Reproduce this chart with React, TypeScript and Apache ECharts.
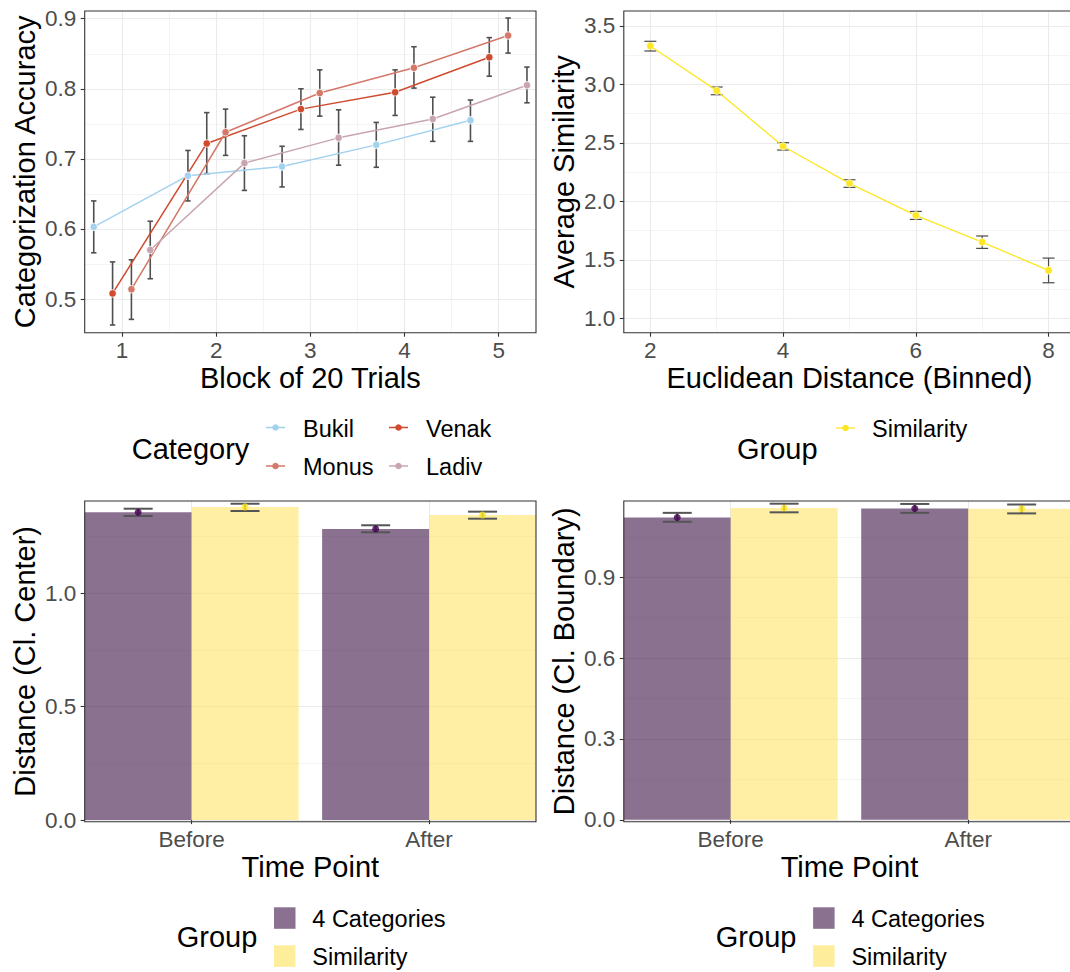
import React, { useEffect, useRef } from 'react';
import * as echarts from 'echarts';

// ---------- Data ----------
const blocks = [1, 2, 3, 4, 5];
const blockTicks = [1, 2, 3, 4, 5];
const blockMinorTicks = [1.5, 2.5, 3.5, 4.5];
const accuracyTicks = [0.5, 0.6, 0.7, 0.8, 0.9];
const accuracyMinorTicks = [0.55, 0.65, 0.75, 0.85];

const categoryNames = ['Bukil', 'Venak', 'Monus', 'Ladiv'];
const bukilMean = [0.603, 0.676, 0.689, 0.72, 0.755];
const bukilLow = [0.566, 0.64, 0.66, 0.688, 0.725];
const bukilHigh = [0.64, 0.712, 0.718, 0.752, 0.784];
const venakMean = [0.508, 0.722, 0.771, 0.795, 0.845];
const venakLow = [0.463, 0.679, 0.742, 0.762, 0.818];
const venakHigh = [0.553, 0.766, 0.8, 0.827, 0.873];
const monusMean = [0.514, 0.738, 0.794, 0.83, 0.876];
const monusLow = [0.471, 0.705, 0.761, 0.801, 0.851];
const monusHigh = [0.556, 0.771, 0.827, 0.86, 0.901];
const ladivMean = [0.57, 0.694, 0.73, 0.757, 0.805];
const ladivLow = [0.529, 0.655, 0.691, 0.725, 0.78];
const ladivHigh = [0.611, 0.733, 0.77, 0.788, 0.831];

const distanceBins = [2, 3, 4, 5, 6, 7, 8];
const distanceTicks = [2, 4, 6, 8];
const distanceMinorTicks = [3, 5, 7];
const similarityTicks = [1.0, 1.5, 2.0, 2.5, 3.0, 3.5];
const similarityMinorTicks = [1.25, 1.75, 2.25, 2.75, 3.25];
const similarityMean = [3.329, 2.947, 2.471, 2.154, 1.88, 1.652, 1.41];
const similarityLow = [3.286, 2.912, 2.439, 2.12, 1.846, 1.598, 1.304];
const similarityHigh = [3.369, 2.978, 2.502, 2.185, 1.914, 1.704, 1.515];

const timePoints = ['Before', 'After'];
const groupNames = ['4 Categories', 'Similarity'];

const centerTicks = [0.0, 0.5, 1.0];
const centerMinorTicks = [0.25, 0.75, 1.25];
const center4Mean = [1.357, 1.284];
const center4Low = [1.341, 1.269];
const center4High = [1.373, 1.3];
const centerSimMean = [1.381, 1.345];
const centerSimLow = [1.363, 1.329];
const centerSimHigh = [1.395, 1.36];

const boundaryTicks = [0.0, 0.3, 0.6, 0.9];
const boundaryMinorTicks = [0.15, 0.45, 0.75, 1.05];
const boundary4Mean = [1.122, 1.155];
const boundary4Low = [1.106, 1.139];
const boundary4High = [1.139, 1.172];
const boundarySimMean = [1.157, 1.154];
const boundarySimLow = [1.141, 1.137];
const boundarySimHigh = [1.173, 1.17];

// ---------- Styling / layout ----------
const FONT = "'Liberation Sans', Arial, Helvetica, sans-serif";
const catColors = ['#A3D2EE', '#CF4A2F', '#D4786A', '#C9A6AF'];
const catOffsets = [-0.3, -0.1, 0.1, 0.3];
const simLineColor = '#FDE725';
const groupPointColors = ['#440154', '#FDE725'];
const groupBarColors = ['rgba(62,18,70,0.6)', 'rgba(253,226,90,0.55)'];
const groupKeyColors = ['#8A7190', '#FEEE9C'];
const barDodge = 0.225;

const L1 = 84.7, L2 = 623.8, PW = 451.3;
// the right column is cut by the page edge: visible width and matching axis ends
const PW2 = 1070 - L2 - 0.2;
const visFrac = PW2 / PW;
const T1 = 11, PH1 = 321.7, T2 = 501, PH2 = 320.7;

const catMeans = [bukilMean, venakMean, monusMean, ladivMean];
const catLows = [bukilLow, venakLow, monusLow, ladivLow];
const catHighs = [bukilHigh, venakHigh, monusHigh, ladivHigh];

function errorBars(capHalf: number, color: string, width: number) {
  return (params: any, api: any) => {
    const x = api.value(0), lo = api.value(1), hi = api.value(2);
    const a = api.coord([x, lo]);
    const b = api.coord([x, hi]);
    const style = { stroke: color, lineWidth: width };
    return {
      type: 'group',
      children: [
        { type: 'line', shape: { x1: a[0], y1: a[1], x2: b[0], y2: b[1] }, style },
        { type: 'line', shape: { x1: a[0] - capHalf, y1: a[1], x2: a[0] + capHalf, y2: a[1] }, style },
        { type: 'line', shape: { x1: b[0] - capHalf, y1: b[1], x2: b[0] + capHalf, y2: b[1] }, style },
      ],
    };
  };
}

function mainAxis(kind: 'x' | 'y', gridIndex: number, min: number, max: number, ticks: number[], fmt: (v: number) => string) {
  return {
    type: 'value',
    gridIndex,
    min,
    max,
    position: kind === 'x' ? 'bottom' : 'left',
    axisLine: { show: false },
    axisTick: { show: true, length: 4, lineStyle: { color: '#333333', width: 1.1 }, customValues: ticks },
    axisLabel: {
      show: true,
      customValues: ticks,
      formatter: fmt,
      color: '#4D4D4D',
      fontSize: 22.5,
      fontFamily: FONT,
      margin: kind === 'x' ? 6 : 8.5,
    },
    splitLine: { show: true, lineStyle: { color: '#EBEBEB', width: 1.1 } },
  };
}

function minorAxis(kind: 'x' | 'y', gridIndex: number, min: number, max: number, ticks: number[]) {
  return {
    type: 'value',
    gridIndex,
    min,
    max,
    position: kind === 'x' ? 'top' : 'right',
    axisLine: { show: false },
    axisTick: { show: false, customValues: ticks },
    axisLabel: { show: false, customValues: ticks },
    splitLine: { show: true, lineStyle: { color: '#EBEBEB', width: 0.55 } },
  };
}

const fmt1 = (v: number) => v.toFixed(1);
const fmtInt = (v: number) => String(Math.round(v));
const fmtTime = (v: number) => timePoints[Math.round(v) - 1] ?? '';

function buildOption() {
  const trMax = 1.6 + (8.4 - 1.6) * visFrac;
  const brMax = 0.55 + (2.45 - 0.55) * visFrac;
  const xAxis = [
    mainAxis('x', 0, 0.604, 5.396, blockTicks, fmtInt),
    minorAxis('x', 0, 0.604, 5.396, blockMinorTicks),
    mainAxis('x', 1, 1.6, trMax, distanceTicks, fmtInt),
    minorAxis('x', 1, 1.6, trMax, distanceMinorTicks),
    mainAxis('x', 2, 0.55, 2.45, [1, 2], fmtTime),
    mainAxis('x', 3, 0.55, brMax, [1, 2], fmtTime),
  ];
  const yAxis = [
    mainAxis('y', 0, 0.452, 0.911, accuracyTicks, fmt1),
    minorAxis('y', 0, 0.452, 0.911, accuracyMinorTicks),
    mainAxis('y', 1, 0.877, 3.628, similarityTicks, fmt1),
    minorAxis('y', 1, 0.877, 3.628, similarityMinorTicks),
    mainAxis('y', 2, -0.007, 1.407, centerTicks, fmt1),
    minorAxis('y', 2, -0.007, 1.407, centerMinorTicks),
    mainAxis('y', 3, -0.007, 1.183, boundaryTicks, fmt1),
    minorAxis('y', 3, -0.007, 1.183, boundaryMinorTicks),
  ];

  const series: any[] = [];
  // Top-left: accuracy per category
  categoryNames.forEach((name, i) => {
    series.push({
      type: 'custom',
      name: name + ' SE',
      xAxisIndex: 0,
      yAxisIndex: 0,
      silent: true,
      z: 2,
      encode: { x: 0, y: [1, 2] },
      data: blocks.map((b, j) => [b + catOffsets[i], catLows[i][j], catHighs[i][j]]),
      renderItem: errorBars(2.7, '#4F4F4F', 1.6),
    });
  });
  categoryNames.forEach((name, i) => {
    series.push({
      type: 'line',
      name,
      xAxisIndex: 0,
      yAxisIndex: 0,
      z: 3,
      data: blocks.map((b, j) => [b + catOffsets[i], catMeans[i][j]]),
      symbol: 'circle',
      symbolSize: 7.5,
      lineStyle: { color: catColors[i], width: 1.5 },
      itemStyle: { color: catColors[i], borderColor: '#ffffff', borderWidth: 0.8 },
    });
  });

  // Top-right: similarity
  series.push({
    type: 'custom',
    name: 'Similarity SE',
    xAxisIndex: 2,
    yAxisIndex: 2,
    silent: true,
    z: 2,
    encode: { x: 0, y: [1, 2] },
    data: distanceBins.map((d, j) => [d, similarityLow[j], similarityHigh[j]]),
    renderItem: errorBars(6, '#4A4A4A', 1.2),
  });
  series.push({
    type: 'line',
    name: 'Similarity',
    xAxisIndex: 2,
    yAxisIndex: 2,
    z: 3,
    data: distanceBins.map((d, j) => [d, similarityMean[j]]),
    symbol: 'circle',
    symbolSize: 7.5,
    lineStyle: { color: simLineColor, width: 1.3 },
    itemStyle: { color: simLineColor, borderColor: '#ffffff', borderWidth: 0.6 },
  });

  // Bottom panels
  const panels = [
    { xi: 4, yi: 4, means: [center4Mean, centerSimMean], lows: [center4Low, centerSimLow], highs: [center4High, centerSimHigh] },
    { xi: 5, yi: 6, means: [boundary4Mean, boundarySimMean], lows: [boundary4Low, boundarySimLow], highs: [boundary4High, boundarySimHigh] },
  ];
  panels.forEach((p) => {
    groupNames.forEach((g, gi) => {
      series.push({
        type: 'bar',
        name: g,
        xAxisIndex: p.xi,
        yAxisIndex: p.yi,
        barWidth: 107,
        barGap: '0%',
        z: 2,
        data: timePoints.map((t, ti) => [ti + 1, p.means[gi][ti]]),
        itemStyle: { color: groupBarColors[gi] },
      });
    });
    groupNames.forEach((g, gi) => {
      const off = gi === 0 ? -barDodge : barDodge;
      series.push({
        type: 'custom',
        name: g + ' SE',
        xAxisIndex: p.xi,
        yAxisIndex: p.yi,
        silent: true,
        z: 3,
        encode: { x: 0, y: [1, 2] },
        data: timePoints.map((t, ti) => [ti + 1 + off, p.lows[gi][ti], p.highs[gi][ti]]),
        renderItem: errorBars(14.5, '#555555', 2),
      });
      series.push({
        type: 'scatter',
        name: g + ' mean',
        xAxisIndex: p.xi,
        yAxisIndex: p.yi,
        z: 4,
        symbolSize: 7,
        data: timePoints.map((t, ti) => [ti + 1 + off, p.means[gi][ti]]),
        itemStyle: { color: groupPointColors[gi] },
      });
    });
  });

  // ---------- graphic: titles, legends, borders ----------
  const graphic: any[] = [];
  const title = (text: string, x: number, y: number, rot = 0, size = 29, align = 'center') => ({
    type: 'text',
    x,
    y,
    rotation: rot,
    z: 50,
    style: { text, fontSize: size, fontFamily: FONT, fill: '#000000', align, verticalAlign: 'middle' },
  });
  const cx1 = L1 + PW / 2, cx2 = L2 + PW / 2;
  graphic.push(title('Block of 20 Trials', cx1, 377.6));
  graphic.push(title('Euclidean Distance (Binned)', cx2, 377.6));
  graphic.push(title('Time Point', cx1, 866.6));
  graphic.push(title('Time Point', cx2, 866.6));
  graphic.push(title('Categorization Accuracy', 25.3, T1 + PH1 / 2, Math.PI / 2));
  graphic.push(title('Average Similarity', 563.6, T1 + PH1 / 2, Math.PI / 2));
  graphic.push(title('Distance (Cl. Center)', 25.3, T2 + PH2 / 2, Math.PI / 2));
  graphic.push(title('Distance (Cl. Boundary)', 563.6, T2 + PH2 / 2, Math.PI / 2));

  // Category legend (column-major: Bukil, Monus | Venak, Ladiv)
  graphic.push(title('Category', 131.7, 449.3, 0, 29, 'left'));
  const legendOrder = ['Bukil', 'Monus', 'Venak', 'Ladiv'];
  legendOrder.forEach((name, k) => {
    const i = categoryNames.indexOf(name);
    const col = Math.floor(k / 2), row = k % 2;
    const kx = col === 0 ? 266 : 389;
    const ky = row === 0 ? 427.5 : 466;
    graphic.push({ type: 'line', z: 50, shape: { x1: kx, y1: ky, x2: kx + 19, y2: ky }, style: { stroke: catColors[i], lineWidth: 1.5 } });
    graphic.push({ type: 'circle', z: 51, shape: { cx: kx + 9.5, cy: ky, r: 3.3 }, style: { fill: catColors[i] } });
    graphic.push(title(name, kx + 37, ky + 1, 0, 23.5, 'left'));
  });

  // Similarity legend
  graphic.push(title('Group', 737, 449.3, 0, 29, 'left'));
  graphic.push({ type: 'line', z: 50, shape: { x1: 836, y1: 428, x2: 855, y2: 428 }, style: { stroke: simLineColor, lineWidth: 1.3 } });
  graphic.push({ type: 'circle', z: 51, shape: { cx: 845.5, cy: 428, r: 3.3 }, style: { fill: simLineColor } });
  graphic.push(title('Similarity', 872, 429, 0, 23.5, 'left'));

  // Group legends (bottom)
  [0, L2 - L1].forEach((dx) => {
    graphic.push(title('Group', 176.7 + dx, 937, 0, 29, 'left'));
    groupNames.forEach((g, gi) => {
      const ry = gi === 0 ? 907.3 : 945.3;
      graphic.push({ type: 'rect', z: 50, shape: { x: 274 + dx, y: ry, width: 21.5, height: 21.5 }, style: { fill: groupKeyColors[gi] } });
      graphic.push(title(g, 312.3 + dx, ry + 11.5, 0, 23.5, 'left'));
    });
  });

  // Panel borders (right column runs past the page edge)
  [
    [L1, T1, PW, PH1],
    [L2, T1, PW, PH1],
    [L1, T2, PW, PH2],
    [L2, T2, PW, PH2],
  ].forEach(([x, y, w, h]) => {
    graphic.push({ type: 'rect', z: 100, silent: true, shape: { x, y, width: w, height: h }, style: { fill: 'none', stroke: '#333333', lineWidth: 1.1 } });
  });

  return {
    animation: false,
    backgroundColor: '#ffffff',
    textStyle: { fontFamily: FONT },
    grid: [
      { left: L1, top: T1, width: PW, height: PH1, containLabel: false },
      { left: L2, top: T1, width: PW2, height: PH1, containLabel: false },
      { left: L1, top: T2, width: PW, height: PH2, containLabel: false },
      { left: L2, top: T2, width: PW2, height: PH2, containLabel: false },
    ],
    xAxis,
    yAxis,
    series,
    graphic,
  };
}

export default function App() {
  const ref = useRef<HTMLDivElement | null>(null);
  useEffect(() => {
    if (!ref.current) return;
    const chart = echarts.init(ref.current, undefined, { renderer: 'svg' });
    chart.setOption(buildOption() as any);
    return () => chart.dispose();
  }, []);
  return (
    <div
      ref={ref}
      style={{ position: 'absolute', left: 0, top: 0, width: 1070, height: 972, background: '#fff' }}
    />
  );
}
